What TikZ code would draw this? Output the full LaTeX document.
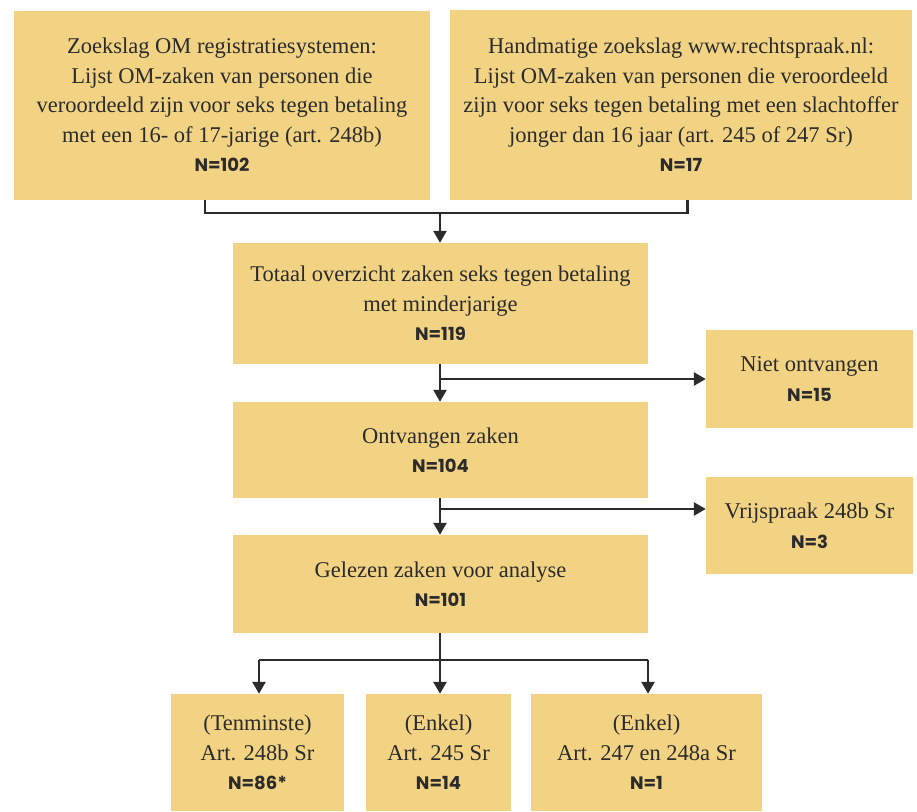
\documentclass[tikz,border=0pt]{standalone}
\usepackage{fontspec}
\setmainfont{Liberation Serif}
\newfontfamily\nfont{Poppins}
\usetikzlibrary{arrows.meta}
\definecolor{boxfill}{HTML}{F2D383}
\definecolor{ink}{HTML}{2B2B2B}
\tikzset{
  box/.style={fill=boxfill, inner sep=0pt, align=center, text=ink,
    font=\fontsize{22.5}{29.5}\selectfont},
  link/.style={draw=ink, line width=2.6pt},
  arr/.style={link, -{Triangle[length=12pt,width=13pt]}},
}
\newcommand{\nval}[1]{{\nfont\bfseries\fontsize{18}{29.5}\selectfont #1}}
\begin{document}
\begin{tikzpicture}[x=1pt,y=-1pt]
\useasboundingbox (0,0) rectangle (917,811);
% boxes by corners
\node[box, minimum width=416pt, minimum height=189pt] (b1) at (222,105)
  {Zoekslag OM registratiesystemen:\\Lijst OM-zaken van personen die\\veroordeeld zijn voor seks tegen betaling\\met een 16- of 17-jarige (art. 248b)\\\nval{N=102}};
\node[box, minimum width=462pt, minimum height=190pt] (b2) at (681,105)
  {Handmatige zoekslag www.rechtspraak.nl:\\Lijst OM-zaken van personen die veroordeeld\\zijn voor seks tegen betaling met een slachtoffer\\jonger dan 16 jaar (art. 245 of 247 Sr)\\\nval{N=17}};
\node[box, minimum width=415pt, minimum height=121pt] (b3) at (440.5,303.5)
  {Totaal overzicht zaken seks tegen betaling\\met minderjarige\\\nval{N=119}};
\node[box, minimum width=207pt, minimum height=98pt] (niet) at (809.5,379)
  {Niet ontvangen\\\nval{N=15}};
\node[box, minimum width=415pt, minimum height=96pt] (b4) at (440.5,450)
  {Ontvangen zaken\\\nval{N=104}};
\node[box, minimum width=207pt, minimum height=97pt] (vrij) at (809.5,525.5)
  {Vrijspraak 248b Sr\\\nval{N=3}};
\node[box, minimum width=415pt, minimum height=98pt] (b5) at (440.5,584)
  {Gelezen zaken voor analyse\\\nval{N=101}};
\node[box, minimum width=173pt, minimum height=117pt] (b6) at (257.5,752.5)
  {(Tenminste)\\Art. 248b Sr\\\nval{N=86*}};
\node[box, minimum width=145pt, minimum height=117pt] (b7) at (438.5,752.5)
  {(Enkel)\\Art. 245 Sr\\\nval{N=14}};
\node[box, minimum width=231pt, minimum height=117pt] (b8) at (646.5,752.5)
  {(Enkel)\\Art. 247 en 248a Sr\\\nval{N=1}};
% connectors
\coordinate (j1) at (440,213);
\coordinate (j3) at (440,509);
\coordinate (j4) at (440,660);
\draw[link] ([xshift=-17pt]b1.south) |- (j1) -| ([xshift=6.5pt]b2.south);
\draw[arr] (j1) -- (j1 |- b3.north);
\draw[arr] (b3.south -| j1) -- (j1 |- b4.north);
\draw[arr] (j1 |- niet.west) -- (niet.west);
\draw[arr] (b4.south -| j1) -- (j1 |- b5.north);
\draw[arr] (j3) -- (j3 -| vrij.west);
\draw[arr] (b5.south -| j1) -- (j1 |- b7.north);
\draw[link] ([xshift=1.5pt]b6.north |- j4) -- ([xshift=1.5pt]b8.north |- j4);
\draw[arr] ([xshift=1.5pt]b6.north |- j4) -- ([xshift=1.5pt]b6.north);
\draw[arr] ([xshift=1.5pt]b8.north |- j4) -- ([xshift=1.5pt]b8.north);
\end{tikzpicture}
\end{document}
